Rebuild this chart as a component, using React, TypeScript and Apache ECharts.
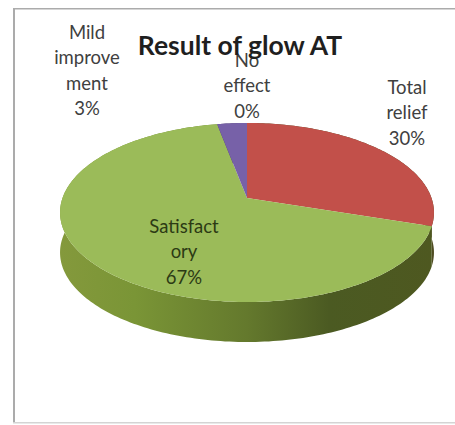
import React, { useEffect, useRef } from "react";
import * as echarts from "echarts";

const categories = ["Total relief", "Satisfactory", "Mild improvement", "No effect"];
const shares = [30, 67, 3, 0];
const wrappedNames = ["Total\nrelief", "Satisfact\nory", "Mild\nimprove\nment", "No\neffect"];
const topColors = ["#c2504a", "#9bbb59", "#7761a8", "#4bacc6"];
const sideStops: [number, string][][] = [
  [[0, "#4f4c22"], [1, "#4f4c22"]],
  [[0, "#84993c"], [0.2, "#7a9536"], [0.5, "#64792d"], [0.72, "#4b5a22"], [1, "#4e5820"]],
  [[0, "#4a3a68"], [1, "#4a3a68"]],
  [[0, "#2d6a7a"], [1, "#2d6a7a"]],
];
const labelCentres = [[407, 74], [184, 213], [87, 19], [247, 47]];

// Tilted disc: a circle under a perspective projection, pivot above the ellipse's middle
const PIVOT_X = 247;
const PIVOT_Y = 198;
const SPREAD_X = 184.5;
const SPREAD_Y = 87.15;
const TILT = 0.162;
const DEPTH = 40;

const total = shares.reduce((a, b) => a + b, 0);

function project(angle: number): number[] {
  const u = Math.sin(angle);
  const v = -Math.cos(angle);
  const w = 1 - TILT * v;
  return [PIVOT_X + (SPREAD_X * u) / w, PIVOT_Y + (SPREAD_Y * v) / w];
}

function arcPoints(index: number): number[][] {
  const before = shares.slice(0, index).reduce((a, b) => a + b, 0);
  const start = (before / total) * Math.PI * 2;
  const sweep = (shares[index] / total) * Math.PI * 2;
  const steps = Math.max(2, Math.ceil(sweep / 0.02));
  const pts: number[][] = [];
  for (let i = 0; i <= steps; i++) pts.push(project(start + (sweep * i) / steps));
  return pts;
}

const labelText = (i: number) => `${wrappedNames[i]}\n${Math.round((shares[i] / total) * 100)}%`;

export default function App() {
  const ref = useRef<HTMLDivElement>(null);

  useEffect(() => {
    document.body.style.margin = "0";
    const chart = echarts.init(ref.current!, null, { renderer: "svg" });
    const frameColor = "#ababab";
    const font = "Lato, 'Open Sans', sans-serif";
    chart.setOption({
      animation: false,
      backgroundColor: "#ffffff",
      title: {
        text: "Result of glow AT",
        left: 235,
        top: 26,
        textAlign: "center",
        textStyle: { fontFamily: font, fontWeight: "bold", fontSize: 26.5, color: "#1f1f1f" },
        z: 20,
      },
      graphic: [
        { type: "rect", shape: { x: 13, y: 8, width: 2, height: 415 }, style: { fill: frameColor }, silent: true },
        { type: "rect", shape: { x: 13, y: 8, width: 442, height: 1.5 }, style: { fill: frameColor }, silent: true },
        { type: "rect", shape: { x: 13, y: 422, width: 442, height: 1.5 }, style: { fill: "#d4d4d4" }, silent: true },
        ...categories.map((_, i) => ({
          type: "text",
          x: labelCentres[i][0],
          y: labelCentres[i][1],
          z: 10,
          style: {
            text: labelText(i),
            fontFamily: font,
            fontSize: 18.5,
            lineHeight: 25.5,
            textAlign: "center",
            fill: i === 1 ? "#2c3a14" : "#404040",
          },
        })),
      ],
      series: [
        {
          type: "custom",
          coordinateSystem: "none",
          z: 1,
          data: shares,
          renderItem: (params: any) => {
            const i = params.dataIndex;
            if (shares[i] === 0) return null;
            const arc = arcPoints(i);
            const lower = arc.map(([x, y]) => [x, y + DEPTH]).reverse();
            return {
              type: "polygon",
              shape: { points: [...arc, ...lower] },
              style: {
                fill: new echarts.graphic.LinearGradient(
                  60, 0, 434, 0,
                  sideStops[i].map(([offset, color]) => ({ offset, color })),
                  true
                ),
              },
            };
          },
        },
        {
          type: "custom",
          coordinateSystem: "none",
          z: 2,
          data: shares,
          renderItem: (params: any) => {
            const i = params.dataIndex;
            if (shares[i] === 0) return null;
            return {
              type: "polygon",
              shape: { points: [[PIVOT_X, PIVOT_Y], ...arcPoints(i)] },
              style: { fill: topColors[i] },
            };
          },
        },
      ],
    });
    return () => chart.dispose();
  }, []);

  return <div ref={ref} style={{ position: "absolute", left: 0, top: 0, width: 455, height: 425 }} />;
}
